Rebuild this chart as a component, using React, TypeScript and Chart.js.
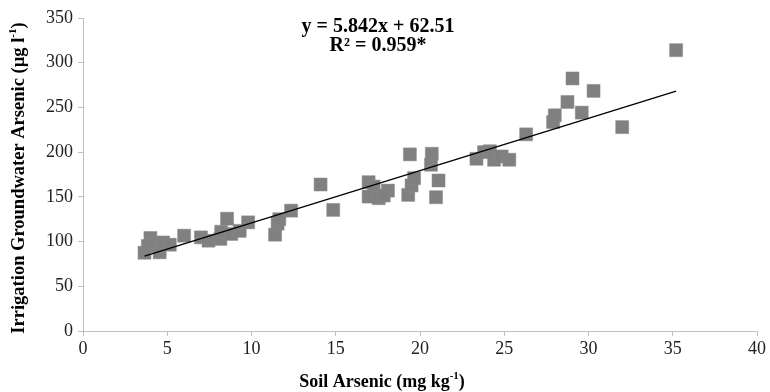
import React, { useEffect, useRef } from "react";
import { Chart, registerables } from "chart.js";

Chart.register(...registerables);

// Soil arsenic (mg kg-1) for each sample
const soilArsenic = [
  3.65, 4.0, 3.85, 4.3, 4.55, 4.75, 5.15, 6.0, 7.0, 7.45, 8.15, 8.2, 8.55, 8.8, 9.3, 9.8,
  11.4, 11.55, 11.65, 12.35, 14.1, 14.85,
  16.95, 17.25, 16.95, 17.55, 18.1, 17.85,
  19.4, 19.3, 19.5, 19.65, 20.7, 20.65, 21.1, 20.95,
  23.35, 23.8, 24.15, 24.4, 24.85, 25.3, 26.3,
  27.9, 28.0, 28.75, 29.05, 29.6, 30.3, 32.0, 35.2,
];
// Irrigation groundwater arsenic (µg l-1) for each sample
const groundwaterArsenic = [
  87.5, 104, 95, 97, 88, 99, 96.5, 106.6, 104.7, 101, 103, 111, 125.6, 108.5, 112, 121.5,
  107.7, 120, 125, 134.6, 163.8, 135.4,
  166.4, 161.5, 150.3, 148.5, 157, 151.5,
  197.5, 152.2, 162.7, 170.9, 198.2, 185.9, 168.3, 149.6,
  192.6, 200, 201, 191.5, 195.2, 191.5, 219.9,
  233.7, 241.2, 256.1, 282.4, 244.2, 268.5, 228, 314,
];

const SLOPE = 5.842;
const INTERCEPT = 62.51;
const equationText = "y = 5.842x + 62.51";
const r2Text = "R\u00B2 = 0.959*";

const xTicks = [0, 5, 10, 15, 20, 25, 30, 35, 40];
const yTicks = [0, 50, 100, 150, 200, 250, 300, 350];

const SERIF = '"Liberation Serif", "Times New Roman", serif';

function drawWithSup(
  ctx: CanvasRenderingContext2D,
  parts: { t: string; sup?: boolean }[],
  cx: number,
  cy: number,
  size: number
) {
  const main = `bold ${size}px ${SERIF}`;
  const small = `bold ${Math.round(size * 0.62)}px ${SERIF}`;
  let total = 0;
  for (const p of parts) {
    ctx.font = p.sup ? small : main;
    total += ctx.measureText(p.t).width;
  }
  let x = cx - total / 2;
  ctx.textAlign = "left";
  ctx.textBaseline = "alphabetic";
  const base = cy + size * 0.33;
  for (const p of parts) {
    ctx.font = p.sup ? small : main;
    ctx.fillText(p.t, x, p.sup ? base - size * 0.42 : base);
    x += ctx.measureText(p.t).width;
  }
}

const textPlugin = {
  id: "customTexts",
  afterDraw(chart: any) {
    const ctx: CanvasRenderingContext2D = chart.ctx;
    ctx.save();
    ctx.fillStyle = "#000";
    ctx.textAlign = "center";
    ctx.textBaseline = "middle";
    ctx.font = `bold 20px ${SERIF}`;
    ctx.fillText(equationText, 378, 27);
    ctx.fillText(r2Text, 378, 46);

    drawWithSup(
      ctx,
      [{ t: "Soil Arsenic (mg kg" }, { t: "-1", sup: true }, { t: ")" }],
      382,
      381,
      18
    );

    ctx.translate(18, 178);
    ctx.rotate(-Math.PI / 2);
    drawWithSup(
      ctx,
      [{ t: "Irrigation Groundwater Arsenic (\u00B5g l" }, { t: "-1", sup: true }, { t: ")" }],
      0,
      0,
      18.5
    );
    ctx.restore();
  },
};

export default function App() {
  const ref = useRef<HTMLCanvasElement>(null);

  useEffect(() => {
    if (!ref.current) return;
    const points = soilArsenic.map((x, i) => ({ x, y: groundwaterArsenic[i] }));
    const xMin = Math.min(...soilArsenic);
    const xMax = Math.max(...soilArsenic);
    const trend = [
      { x: xMin, y: SLOPE * xMin + INTERCEPT },
      { x: xMax, y: SLOPE * xMax + INTERCEPT },
    ];
    const chart = new Chart(ref.current, {
      type: "scatter",
      data: {
        datasets: [
          {
            type: "line",
            label: "Linear trend",
            data: trend,
            borderColor: "#000",
            borderWidth: 1.3,
            pointRadius: 0,
            fill: false,
          } as any,
          {
            label: "Samples",
            data: points,
            pointStyle: "rect",
            pointRadius: 9.2,
            pointHoverRadius: 9.2,
            backgroundColor: "#808080",
            borderColor: "#8a8a8a",
            borderWidth: 0.5,
          },
        ],
      },
      options: {
        responsive: false,
        animation: false,
        events: [],
        layout: { padding: { left: 0, top: 18, right: 13, bottom: 0 } },
        plugins: {
          legend: { display: false },
          tooltip: { enabled: false },
          title: { display: false },
        },
        scales: {
          x: {
            type: "linear",
            min: 0,
            max: 40,
            afterBuildTicks: (s: any) => {
              s.ticks = xTicks.map((v) => ({ value: v }));
            },
            afterFit: (s: any) => {
              s.height = 61;
            },
            ticks: {
              font: { family: SERIF, size: 18 },
              color: "#222",
              padding: 2,
              maxRotation: 0,
            },
            grid: {
              display: true,
              drawOnChartArea: false,
              drawTicks: true,
              tickLength: 5,
              color: "#bfbfbf",
            },
            border: { display: true, color: "#bfbfbf", width: 1 },
          },
          y: {
            type: "linear",
            min: 0,
            max: 350,
            afterBuildTicks: (s: any) => {
              s.ticks = yTicks.map((v) => ({ value: v }));
            },
            afterFit: (s: any) => {
              s.width = 83;
            },
            ticks: {
              font: { family: SERIF, size: 18 },
              color: "#222",
              padding: 5,
            },
            grid: {
              display: true,
              drawOnChartArea: false,
              drawTicks: true,
              tickLength: 5,
              color: "#bfbfbf",
            },
            border: { display: true, color: "#bfbfbf", width: 1 },
          },
        },
      },
      plugins: [textPlugin],
    });
    return () => chart.destroy();
  }, []);

  return (
    <div style={{ position: "absolute", left: 0, top: 0, width: 770, height: 392, background: "#fff" }}>
      <canvas ref={ref} width={770} height={392} style={{ display: "block" }} />
    </div>
  );
}
